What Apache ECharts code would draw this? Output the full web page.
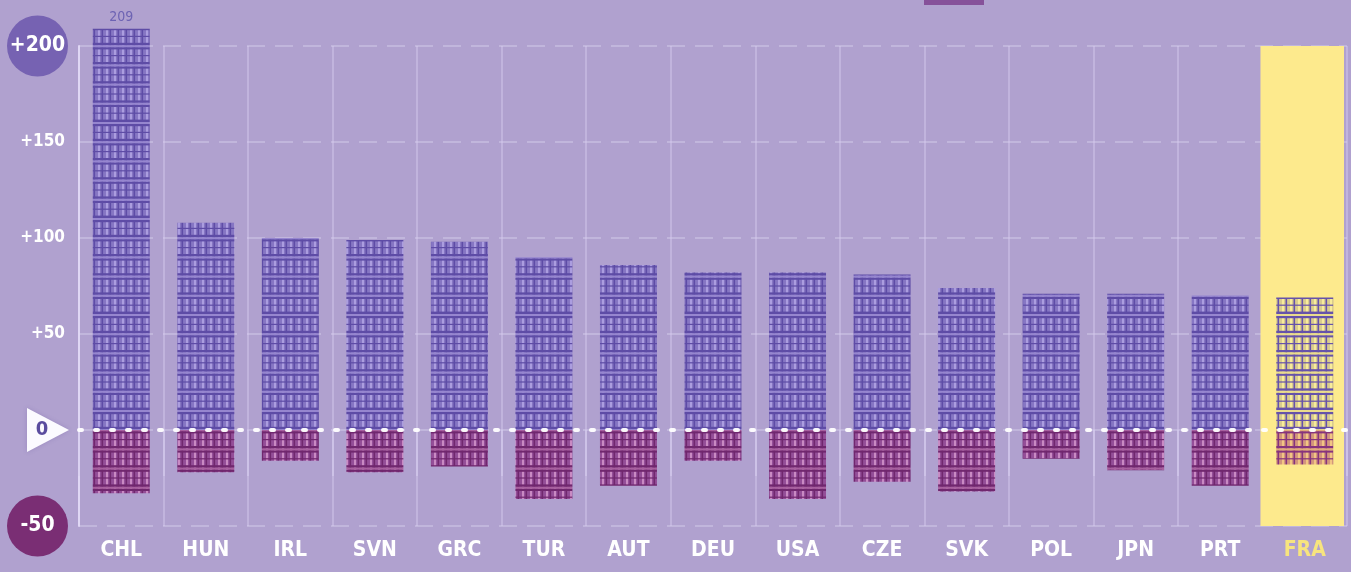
<!DOCTYPE html>
<html>
<head>
<meta charset="utf-8">
<script src="https://cdn.jsdelivr.net/npm/echarts@6/dist/echarts.min.js"></script>
<style>
  html, body { margin: 0; padding: 0; background: #b0a1cf; }
  #chart { width: 1351px; height: 572px; }
</style>
</head>
<body>
<div id="chart"></div>
<script>
// Countries, ordered by the size of the rise
const countries = ['CHL', 'HUN', 'IRL', 'SVN', 'GRC', 'TUR', 'AUT', 'DEU', 'USA', 'CZE', 'SVK', 'POL', 'JPN', 'PRT', 'FRA'];
// Upward part of each column
const gains = [209, 108, 100, 99, 98, 90, 86, 82, 82, 81, 74, 71, 71, 70, 69];
// Downward part of each column
const losses = [-33, -22, -16, -22, -19, -36, -29, -16, -36, -27, -32, -15, -21, -29, -18];
// Value axis ticks and their labels
const yTicks = [-50, 0, 50, 100, 150, 200];
const yTickLabels = ['-50', '0', '+50', '+100', '+150', '+200'];
const highlighted = 'FRA';

const yMin = yTicks[0];
const yMax = yTicks[yTicks.length - 1];
const FONT = "'DejaVu Sans Condensed', 'Liberation Sans Narrow', 'Roboto', sans-serif";

function tickLabel(v) {
  const i = yTicks.indexOf(v);
  return i < 0 ? '' : yTickLabels[i];
}

// Tiled fill: little cells with vertical strokes, rows split by double rules
function makeTile(rowH, zeroY, col) {
  const w = 8;
  const h = Math.max(1, Math.round(rowH * 5));
  const cv = document.createElement('canvas');
  cv.width = w; cv.height = h;
  const g = cv.getContext('2d');
  g.fillStyle = col.base; g.fillRect(0, 0, w, h);
  g.fillStyle = col.light; g.fillRect(2, 0, 2, h);
  g.fillStyle = col.dark; g.fillRect(5.5, 0, 1.6, h);
  const off = ((zeroY % h) + h) % h;
  for (let k = -7; k <= 7; k++) {
    const b = off + k * rowH;
    g.fillStyle = col.dark;
    g.fillRect(0, b - 3.2, w, 2.4);
    g.fillRect(0, b + 1.2, w, 2.2);
    g.fillStyle = col.mid;
    g.fillRect(0, b - 0.8, w, 2);
    g.fillStyle = col.dark;
    g.fillRect(0, b + rowH / 2 - 0.6, w, 1.2);
  }
  return { image: cv, repeat: 'repeat' };
}

const chart = echarts.init(document.getElementById('chart'), null, { renderer: 'canvas' });

const baseOption = {
  animation: false,
  backgroundColor: '#b0a1cf',
  grid: { left: 79, right: 4, top: 46, bottom: 46, containLabel: false },
  xAxis: {
    type: 'category',
    data: countries.map(c => c === highlighted
      ? { value: c, textStyle: { color: '#f7e47e' } }
      : c),
    boundaryGap: true,
    axisLine: { show: false },
    axisTick: { show: true, length: 46, interval: 0, lineStyle: { color: 'rgba(214,204,238,0.75)', width: 1.5 } },
    axisLabel: { color: '#ffffff', fontFamily: FONT, fontWeight: 'bold', fontSize: 21, margin: 14, interval: 0 },
    splitLine: { show: true, interval: 0, lineStyle: { color: 'rgba(214,204,238,0.6)', width: 1.5 } }
  },
  yAxis: {
    type: 'value',
    min: yMin, max: yMax, interval: 50,
    axisLine: { show: true, lineStyle: { color: 'rgba(226,218,246,0.9)', width: 2 } },
    axisTick: { show: false },
    splitLine: { show: true, lineStyle: { color: 'rgba(236,230,250,0.4)', width: 1.5, type: [18, 10] } },
    axisLabel: {
      margin: 11,
      formatter: v => {
        const t = tickLabel(v);
        if (v === yMax) return '{top|' + t + '}';
        if (v === yMin) return '{bot|' + t + '}';
        if (v === 0) return '';
        return '{n|' + t + '}';
      },
      rich: {
        top: { width: 61, height: 61, lineHeight: 61, borderRadius: 31, backgroundColor: '#7662b2', color: '#fff', fontFamily: FONT, fontWeight: 'bold', fontSize: 21, align: 'center' },
        bot: { width: 61, height: 61, lineHeight: 61, borderRadius: 31, backgroundColor: '#7a2e74', color: '#fff', fontFamily: FONT, fontWeight: 'bold', fontSize: 21, align: 'center' },
        n: { color: '#fff', fontFamily: FONT, fontWeight: 'bold', fontSize: 17, padding: [0, 3, 0, 0] }
      }
    }
  },
  series: []
};
chart.setOption(baseOption);

const zeroY = chart.convertToPixel({ yAxisIndex: 0 }, 0);
const rowH = zeroY - chart.convertToPixel({ yAxisIndex: 0 }, 10);

const patUp = makeTile(rowH, zeroY, { base: '#8676c3', mid: '#9686cf', light: '#ab9ddf', dark: '#5e4ca6' });
const patDown = makeTile(rowH, zeroY, { base: '#944e98', mid: '#a8609f', light: '#c98ac3', dark: '#70276e' });
const patUpHi = makeTile(rowH, zeroY, { base: '#d9cc8e', mid: '#eadc8c', light: '#f8ec9a', dark: '#6652aa' });
const patDownHi = makeTile(rowH, zeroY, { base: '#d3977c', mid: '#e2ab7c', light: '#f2c583', dark: '#86337d' });

const hiIndex = countries.indexOf(highlighted);

chart.setOption({
  series: [
    {
      // yellow band behind the highlighted country
      type: 'custom',
      silent: true,
      z: 1,
      data: [[hiIndex, yMax, yMin]],
      renderItem: (params, api) => {
        const top = api.coord([api.value(0), api.value(1)]);
        const bot = api.coord([api.value(0), api.value(2)]);
        const bw = api.size([1, 0])[0];
        return {
          type: 'rect',
          shape: { x: top[0] - bw / 2 - 2, y: top[1], width: bw - 1, height: bot[1] - top[1] },
          style: { fill: '#fdea8d' }
        };
      }
    },
    {
      name: 'up',
      type: 'bar',
      stack: 'v',
      barWidth: 57,
      clip: false,
      z: 3,
      data: gains.map((v, i) => ({
        value: v,
        itemStyle: { color: countries[i] === highlighted ? patUpHi : patUp },
        label: { show: v > yMax }
      })),
      label: { position: 'top', distance: 4, color: '#6d63b3', fontFamily: FONT, fontSize: 14 },
      markLine: {
        silent: true,
        symbol: 'none',
        label: { show: false },
        lineStyle: { color: '#ffffff', width: 4, type: [3, 13], cap: 'round', opacity: 0.95 },
        data: [{ yAxis: 0 }]
      }
    },
    {
      name: 'down',
      type: 'bar',
      stack: 'v',
      barWidth: 57,
      clip: false,
      z: 3,
      data: losses.map((v, i) => ({
        value: v,
        itemStyle: { color: countries[i] === highlighted ? patDownHi : patDown }
      }))
    }
  ],
  graphic: [
    {
      type: 'polygon',
      z: 10,
      shape: { points: [[27, zeroY - 22], [27, zeroY + 22], [69, zeroY]] },
      style: { fill: '#fbfaff', shadowBlur: 4, shadowColor: 'rgba(90,70,150,0.25)' }
    },
    {
      type: 'text',
      z: 11,
      x: 42, y: zeroY,
      style: { text: tickLabel(0), fill: '#5a4c9f', fontFamily: FONT, fontWeight: 'bold', fontSize: 20, align: 'center', verticalAlign: 'middle' }
    },
    {
      type: 'rect',
      z: 10,
      shape: { x: 924, y: 0, width: 60, height: 5 },
      style: { fill: '#86519a' }
    }
  ]
});
</script>
</body>
</html>
